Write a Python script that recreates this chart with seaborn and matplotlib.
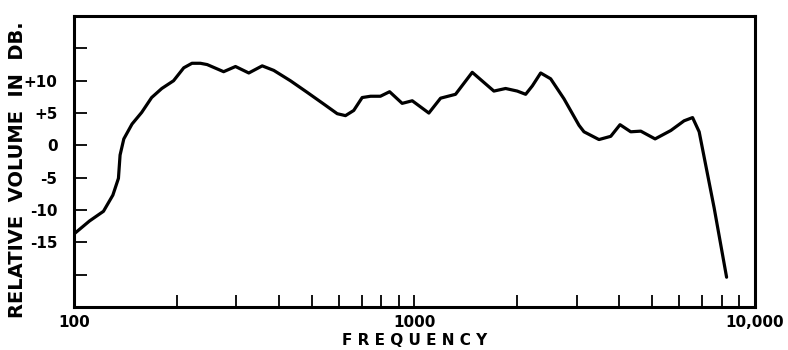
import pandas as pd
import seaborn as sns
import matplotlib.pyplot as plt
from matplotlib.ticker import FixedLocator, NullFormatter

# frequency response
freq = [100, 111, 122, 130, 135, 136.5, 140, 148, 158, 169, 181, 196, 210, 222,
        235, 246, 275, 298, 326, 357, 386, 432, 484, 541, 593, 627, 663, 702,
        743, 794, 845, 920, 985, 1102, 1193, 1320, 1478, 1711, 1852, 2004,
        2121, 2219, 2348, 2512, 2749, 3043, 3147, 3483, 3772, 4016, 4318,
        4621, 5091, 5663, 6194, 6560, 6859, 7592, 8257]
level = [-13.7, -11.7, -10.2, -7.7, -5.1, -1.5, 1.0, 3.3, 5.1, 7.4, 8.8, 10.0,
         12.0, 12.7, 12.7, 12.5, 11.4, 12.2, 11.2, 12.3, 11.6, 10.0, 8.2, 6.4,
         4.9, 4.6, 5.4, 7.4, 7.6, 7.6, 8.3, 6.5, 6.9, 5.0, 7.3, 7.9, 11.3, 8.4,
         8.8, 8.4, 7.9, 9.2, 11.2, 10.3, 7.2, 3.1, 2.1, 0.9, 1.4, 3.2, 2.1,
         2.2, 1.0, 2.3, 3.8, 4.3, 2.1, -9.7, -20.4]

y_ticks = [-20, -15, -10, -5, 0, 5, 10, 15]
y_labels = ['', '-15', '-10', '-5', '0', '+5', '+10', '']
x_ticks = [100, 1000, 10000]
x_labels = ['100', '1000', '10,000']
x_minor = [200, 300, 400, 500, 600, 700, 800, 900,
           2000, 3000, 4000, 5000, 6000, 7000, 8000, 9000]

df = pd.DataFrame({'freq': freq, 'level': level})

sns.set_style('white')
plt.rcParams['font.family'] = ['DejaVu Sans']
plt.rcParams['text.color'] = 'black'
plt.rcParams['xtick.color'] = 'black'
plt.rcParams['ytick.color'] = 'black'
plt.rcParams['axes.labelcolor'] = 'black'

fig = plt.figure(figsize=(7.88, 3.5), dpi=100)
ax = fig.add_axes([0.094, 0.123, 0.864, 0.831])

sns.lineplot(data=df, x='freq', y='level', color='black', linewidth=2.3,
             sort=False, estimator=None, ax=ax)
ax.lines[0].set_solid_joinstyle('round')
ax.lines[0].set_solid_capstyle('round')

ax.set_xscale('log')
ax.set_xlim(100, 10000)
ax.set_ylim(-25, 20)

ax.set_xticks(x_ticks)
ax.set_xticklabels(x_labels, fontsize=11, fontweight='bold')
ax.xaxis.set_minor_locator(FixedLocator(x_minor))
ax.xaxis.set_minor_formatter(NullFormatter())
ax.yaxis.set_minor_locator(FixedLocator([]))
ax.set_yticks(y_ticks)
ax.set_yticklabels(y_labels, fontsize=11, fontweight='bold')

ax.tick_params(axis='both', which='both', direction='in', length=9,
               width=1.3, color='black', bottom=True, left=True,
               top=False, right=False)
ax.tick_params(axis='x', which='major', pad=6)
ax.tick_params(axis='y', which='major', pad=12)

for side in ['left', 'bottom', 'top', 'right']:
    ax.spines[side].set_visible(True)
    ax.spines[side].set_color('black')
    ax.spines[side].set_linewidth(2.2)

ax.set_xlabel('F R E Q U E N C Y', fontsize=11, fontweight='bold', labelpad=2)
ax.set_ylabel('')
fig.text(0.022, 0.515, 'RELATIVE  VOLUME  IN  DB.', rotation=90,
         fontsize=14, fontweight='bold', ha='center', va='center')

fig.savefig('out.png', dpi=100, facecolor='white')
